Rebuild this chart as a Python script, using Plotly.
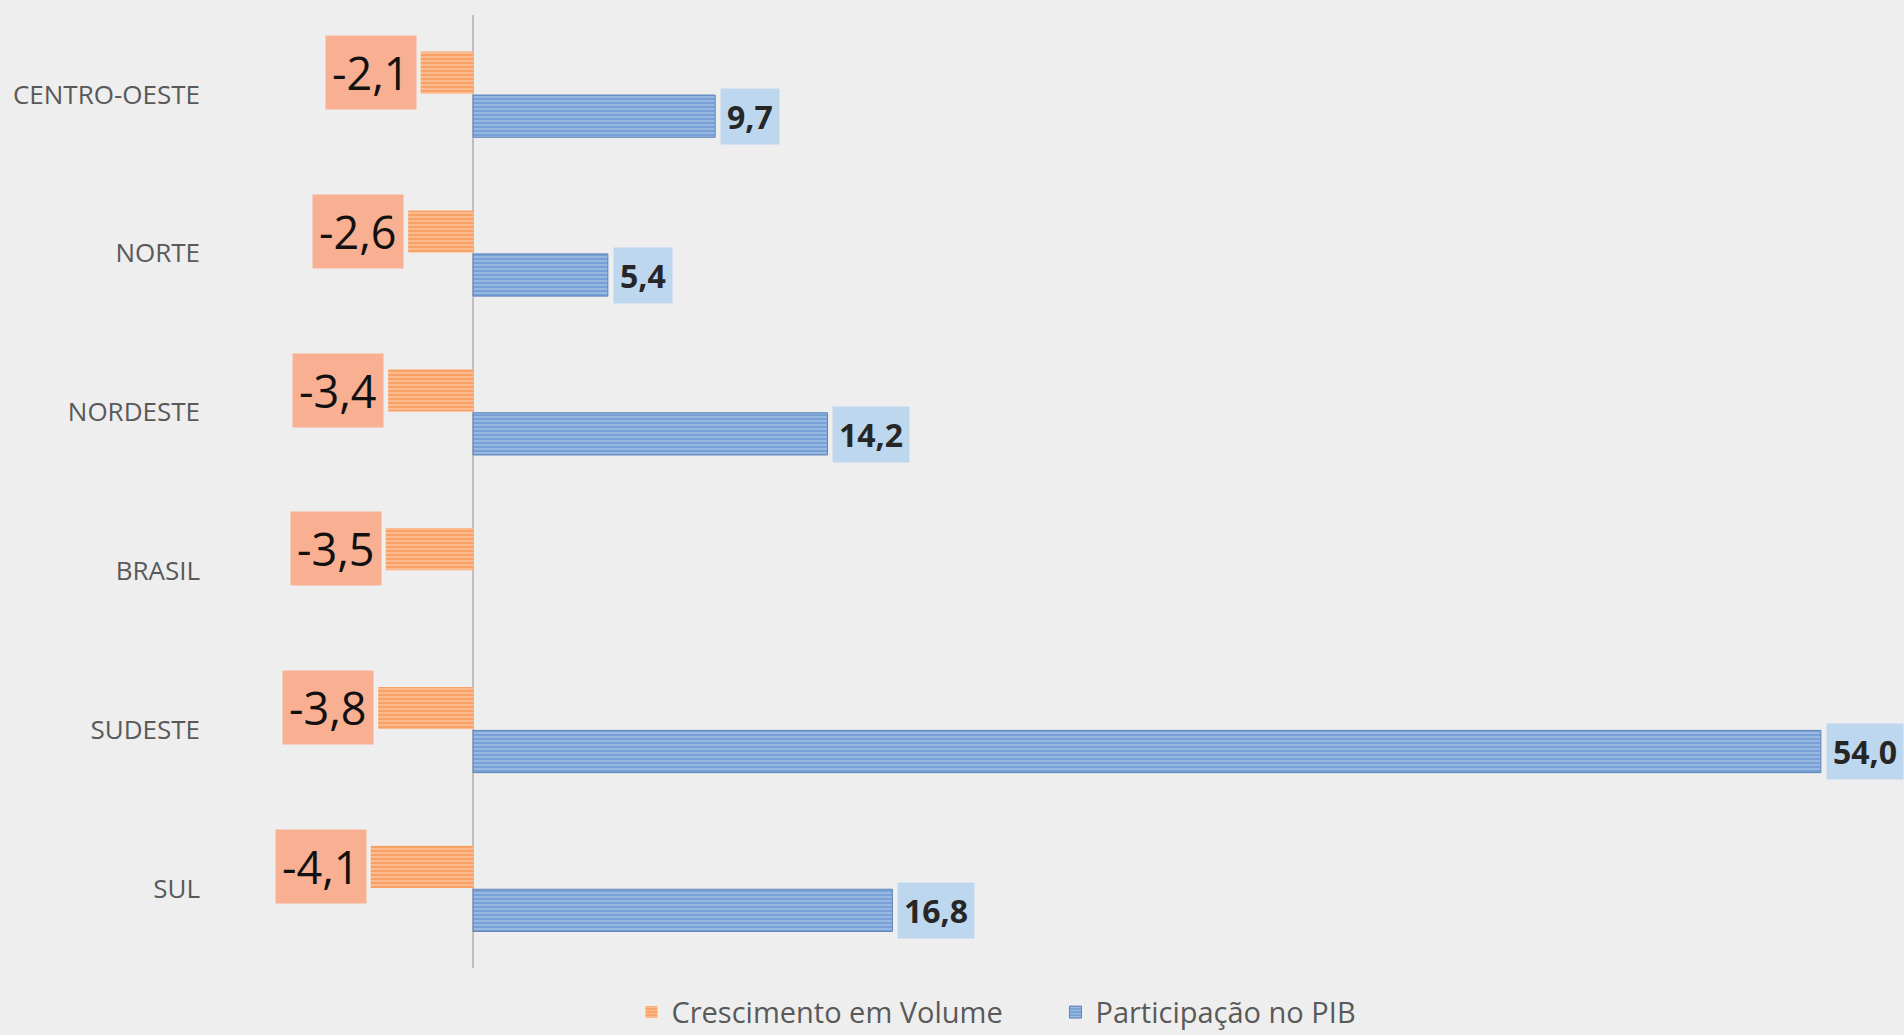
import plotly.graph_objects as go

regions = ["CENTRO-OESTE", "NORTE", "NORDESTE", "BRASIL", "SUDESTE", "SUL"]
crescimento = [-2.1, -2.6, -3.4, -3.5, -3.8, -4.1]
participacao = [9.7, 5.4, 14.2, None, 54.0, 16.8]

def fmt(v):
    return f"{v:.1f}".replace(".", ",")

fig = go.Figure()
fig.add_trace(go.Bar(
    y=regions, x=crescimento, orientation="h", name="Crescimento em Volume",
    marker=dict(color="#F9A064", line=dict(width=0),
                pattern=dict(shape="-", fgcolor="#FFE3CF", size=4, solidity=0.4, fillmode="overlay")),
))
fig.add_trace(go.Bar(
    y=regions, x=participacao, orientation="h", name="Participação no PIB",
    marker=dict(color="#77A0D6", line=dict(width=1, color="#5B83BA"),
                pattern=dict(shape="-", fgcolor="#CBDDF3", size=4, solidity=0.4, fillmode="overlay")),
))

annotations = []
for r, v in zip(regions, crescimento):
    annotations.append(dict(
        x=v, y=r, xref="x", yref="y", text=fmt(v), showarrow=False,
        xanchor="right", yanchor="middle", xshift=-4, yshift=22,
        bgcolor="#F8AF92", borderpad=6,
        font=dict(family="Open Sans", size=45, color="#111111"),
    ))
for r, v in zip(regions, participacao):
    if v is None:
        continue
    annotations.append(dict(
        x=v, y=r, xref="x", yref="y", text="<b>" + fmt(v) + "</b>", showarrow=False,
        xanchor="left", yanchor="middle", xshift=5, yshift=-22,
        bgcolor="#BDD7EE", borderpad=6,
        font=dict(family="Open Sans", size=32, color="#262626"),
    ))

fig.update_layout(
    width=1904, height=1035,
    barmode="group", bargap=0.452, bargroupgap=0.03,
    paper_bgcolor="#EEEEEE", plot_bgcolor="#EEEEEE",
    margin=dict(l=205, r=0, t=15, b=67, autoexpand=False),
    font=dict(family="Open Sans", color="#595959"),
    annotations=annotations,
    legend=dict(orientation="h", xref="paper", x=0.251, xanchor="left",
                yref="container", y=0.022, yanchor="middle",
                entrywidth=379,
                font=dict(family="Open Sans", size=29, color="#595959"),
                bgcolor="rgba(0,0,0,0)"),
    xaxis=dict(range=[-10.74, 57.33], showgrid=False, showticklabels=False,
               zeroline=True, zerolinecolor="#BFBFBF", zerolinewidth=2, fixedrange=True),
    yaxis=dict(autorange="reversed", showgrid=False, ticks="",
               tickfont=dict(family="Open Sans", size=26, color="#595959"),
               ticklabelstandoff=4),
    showlegend=True,
)

fig.write_html("out.html", config={"displayModeBar": False},
               post_script="document.body.style.margin='0px';document.body.style.overflow='hidden';")
